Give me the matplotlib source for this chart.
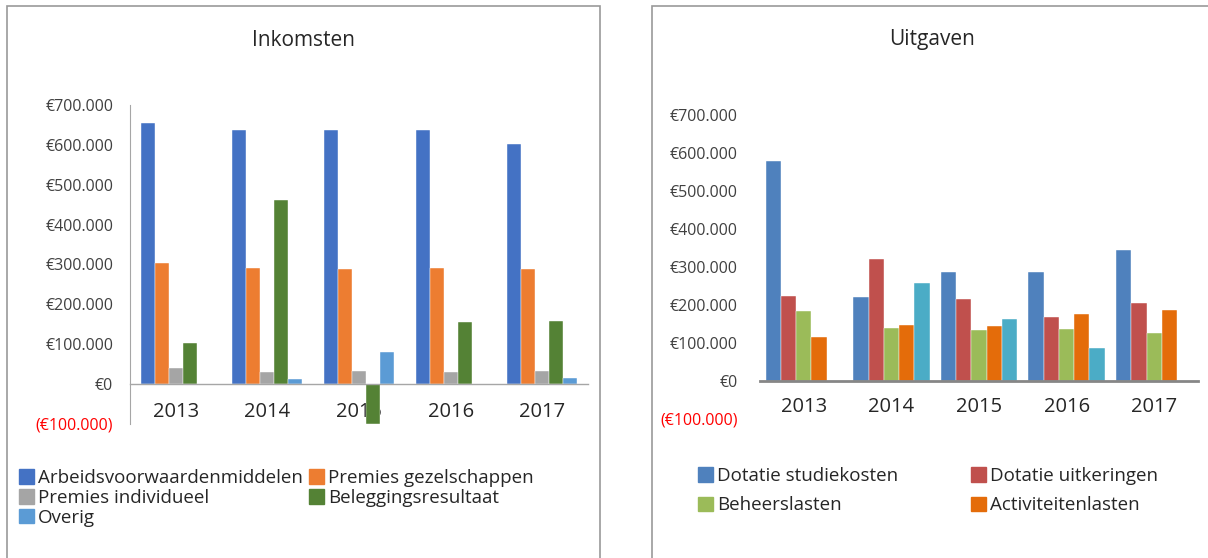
import numpy as np
import matplotlib
matplotlib.use('Agg')
import matplotlib.pyplot as plt
from matplotlib.patches import Patch, Rectangle

plt.rcParams['font.family'] = ['Open Sans', 'DejaVu Sans']

W, H = 1208, 558

years = ['2013', '2014', '2015', '2016', '2017']

# Inkomsten (EUR)
inkomsten_labels = ['Arbeidsvoorwaardenmiddelen', 'Premies gezelschappen',
                    'Premies individueel', 'Beleggingsresultaat', 'Overig']
arbeidsvoorwaarden = [656000, 637000, 637000, 637000, 601000]
premies_gezelschappen = [303000, 291000, 289000, 290000, 288000]
premies_individueel = [40000, 30000, 32000, 30000, 33000]
beleggingsresultaat = [102000, 461000, -100000, 155000, 158000]
overig = [0, 14000, 80000, 0, 16000]
inkomsten_colors = ['#4472C4', '#ED7D31', '#A5A5A5', '#548235', '#5B9BD5']

# Uitgaven (EUR)
uitgaven_labels = ['Dotatie studiekosten', 'Dotatie uitkeringen',
                   'Beheerslasten', 'Activiteitenlasten', '']
dotatie_studiekosten = [577000, 219000, 286000, 286000, 345000]
dotatie_uitkeringen = [223000, 320000, 215000, 168000, 204000]
beheerslasten = [183000, 139000, 133000, 136000, 125000]
activiteitenlasten = [115000, 147000, 144000, 176000, 185000]
uitgaven_overig = [0, 256000, 162000, 87000, 0]
uitgaven_colors = ['#4F81BD', '#C0504D', '#9BBB59', '#E46C0A', '#4BACC6']

yticks = [-100000, 0, 100000, 200000, 300000, 400000, 500000, 600000, 700000]


def euro(v):
    s = '€' + '{:,.0f}'.format(abs(v)).replace(',', '.')
    return '(' + s + ')' if v < 0 else s


def px_axes(x0, x1, y_top, y_bot):
    return [x0 / W, 1 - y_bot / H, (x1 - x0) / W, (y_bot - y_top) / H]


def bar_panel(ax, series, colors, width, spine_left, zero_lw, zero_color, ypad, xpad):
    x = np.arange(len(years))
    n = len(series)
    for i, (vals, c) in enumerate(zip(series, colors)):
        ax.bar(x + (i - (n - 1) / 2) * width, vals, width, color=c,
               edgecolor='white', linewidth=0.3, zorder=2)
    ax.set_xlim(-0.5, len(years) - 0.5)
    ax.set_ylim(-100000, 700000)
    ax.set_yticks(yticks, [euro(v) for v in yticks])
    ax.set_xticks(x, years)
    ax.tick_params(axis='y', length=0, pad=ypad, labelsize=11.5, labelcolor='#404040')
    ax.tick_params(axis='x', length=0, pad=xpad, labelsize=14.5, labelcolor='#262626')
    ax.get_yticklabels()[0].set_color('#FF0000')
    for s in ['top', 'right']:
        ax.spines[s].set_visible(False)
    ax.spines['left'].set_visible(spine_left)
    ax.spines['left'].set_color('#A6A6A6')
    ax.spines['bottom'].set_position(('data', 0))
    ax.spines['bottom'].set_color(zero_color)
    ax.spines['bottom'].set_linewidth(zero_lw)
    ax.spines['bottom'].set_zorder(3)
    ax.patch.set_alpha(0)


fig = plt.figure(figsize=(W / 100, H / 100), dpi=100)

# panel frames
fig.patches.append(Rectangle((7.5 / W, -0.1), 592 / W, 1.1 - 6.5 / H,
                             transform=fig.transFigure, fill=False,
                             edgecolor='#999999', linewidth=1.2))
fig.patches.append(Rectangle((652 / W, -0.1), 600 / W, 1.1 - 6.5 / H,
                             transform=fig.transFigure, fill=False,
                             edgecolor='#999999', linewidth=1.2))

# Inkomsten
ax1 = fig.add_axes(px_axes(130, 588, 105, 424))
bar_panel(ax1, [arbeidsvoorwaarden, premies_gezelschappen, premies_individueel,
                beleggingsresultaat, overig],
          inkomsten_colors, 0.153, True, 1.0, '#A6A6A6', 12, 13)
fig.text(304 / W, 1 - 40 / H, 'Inkomsten', ha='center', va='center',
         fontsize=15, color='#262626')

h1 = [Patch(color=c) for c in inkomsten_colors]
order1 = [0, 2, 4, 1, 3]
fig.legend([h1[i] for i in order1], [inkomsten_labels[i] for i in order1],
           ncol=2, loc='upper left', bbox_to_anchor=(19 / W, 1 - 469 / H),
           frameon=False, fontsize=13.5, handlelength=0.8, handleheight=0.8,
           handletextpad=0.2, labelspacing=0.1, columnspacing=0.35,
           borderpad=0, borderaxespad=0, labelcolor='#262626')

# Uitgaven
ax2 = fig.add_axes(px_axes(760, 1198, 114.7, 418.7))
bar_panel(ax2, [dotatie_studiekosten, dotatie_uitkeringen, beheerslasten,
                activiteitenlasten, uitgaven_overig],
          uitgaven_colors, 0.174, False, 2.0, '#868686', 16, 12)
fig.text(932 / W, 1 - 40 / H, 'Uitgaven', ha='center', va='center',
         fontsize=15, color='#262626')

h2 = [Patch(color=c) for c in uitgaven_colors[:4]]
order2 = [0, 2, 1, 3]
fig.legend([h2[i] for i in order2], [uitgaven_labels[i] for i in order2],
           ncol=2, loc='upper left', bbox_to_anchor=(698 / W, 1 - 467 / H),
           frameon=False, fontsize=13.5, handlelength=0.8, handleheight=0.8,
           handletextpad=0.2, labelspacing=0.6, columnspacing=3.9,
           borderpad=0, borderaxespad=0, labelcolor='#262626')

fig.savefig('out.png', dpi=100)
